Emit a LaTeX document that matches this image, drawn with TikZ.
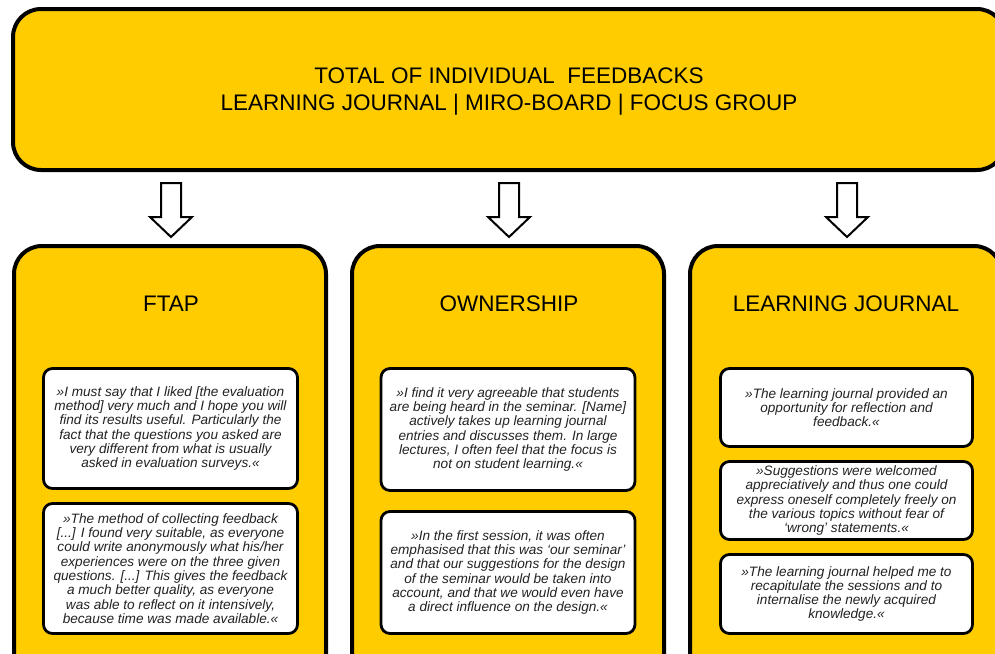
\documentclass[tikz,border=0pt]{standalone}
\usepackage{fontspec}
\setmainfont{Liberation Sans}
\definecolor{gold}{HTML}{FFCC00}
\definecolor{quoteink}{HTML}{222222}
\begin{document}
\begin{tikzpicture}[x=1pt,y=-1pt]
\tikzset{
  bigbox/.style={draw=black, line width=4pt, fill=gold, rounded corners=28pt, inner sep=0pt},
  quotebox/.style={draw=black, line width=2.8pt, fill=white, rounded corners=9pt, inner sep=0pt},
  quotetext/.style={align=center, text=quoteink, font=\fontsize{13.6}{14.3}\selectfont\itshape, inner sep=0pt},
  titletext/.style={align=center, font=\fontsize{22.5}{27}\selectfont},
  blockarrow/.style={draw=black, line width=2pt, fill=white, line join=miter}
}
\useasboundingbox (0,0) rectangle (995,653);
\clip (0,0) rectangle (995,653);

% top box
\node[bigbox, minimum width=992pt, minimum height=161pt] (top) at (509,89.5) {};
\node[titletext] (toptext) at (509,92) {TOTAL OF INDIVIDUAL \ FEEDBACKS\\LEARNING JOURNAL | MIRO-BOARD | FOCUS GROUP};

% panels
\node[bigbox, minimum width=312pt, minimum height=474pt] (p1) at (170,483) {};
\node[bigbox, minimum width=312pt, minimum height=474pt] (p2) at (508,483) {};
\node[bigbox, minimum width=312pt, minimum height=474pt] (p3) at (846,483) {};

\node[titletext] (t1) at (171,304) {FTAP};
\node[titletext] (t2) at (509,304) {OWNERSHIP};
\node[titletext] (t3) at (846,304) {LEARNING JOURNAL};

% arrows
\foreach \p in {p1,p2,p3}
  \draw[blockarrow] (\p.north |- top.south) ++(-9,11) -- ++(20,0) -- ++(0,34) -- ++(11,0)
     -- ++(-21,20) -- ++(-21,-20) -- ++(11,0) -- cycle;

% quote boxes panel 1
\node[quotebox, minimum width=254pt, minimum height=120pt] (q11) at (170.5,428.5) {};
\node[quotetext] (q11t) at (q11) {»I must say that I liked [the evaluation\\method] very much and I hope you will\\find its results useful. Particularly the\\fact that the questions you asked are\\very different from what is usually\\asked in evaluation surveys.«};
\node[quotebox, minimum width=254pt, minimum height=130pt] (q12) at (170.5,568.5) {};
\node[quotetext] (q12t) at (q12) {»The method of collecting feedback\\{[...]} I found very suitable, as everyone\\could write anonymously what his/her\\experiences were on the three given\\questions. [...] This gives the feedback\\a much better quality, as everyone\\was able to reflect on it intensively,\\because time was made available.«};

% quote boxes panel 2
\node[quotebox, minimum width=254pt, minimum height=122pt] (q21) at (508,429.5) {};
\node[quotetext] (q21t) at (q21) {»I find it very agreeable that students\\are being heard in the seminar. [Name]\\actively takes up learning journal\\entries and discusses them. In large\\lectures, I often feel that the focus is\\not on student learning.«};
\node[quotebox, minimum width=254pt, minimum height=122pt] (q22) at (508,572.5) {};
\node[quotetext] (q22t) at (q22) {»In the first session, it was often\\emphasised that this was ‘our seminar’\\and that our suggestions for the design\\of the seminar would be taken into\\account, and that we would even have\\a direct influence on the design.«};

% quote boxes panel 3
\node[quotebox, minimum width=252pt, minimum height=78pt] (q31) at (846.5,407.5) {};
\node[quotetext] (q31t) at (q31) {»The learning journal provided an\\opportunity for reflection and\\feedback.«};
\node[quotebox, minimum width=252pt, minimum height=78pt] (q32) at (846.5,500.5) {};
\node[quotetext] (q32t) at (q32) {»Suggestions were welcomed\\appreciatively and thus one could\\express oneself completely freely on\\the various topics without fear of\\‘wrong’ statements.«};
\node[quotebox, minimum width=252pt, minimum height=79pt] (q33) at (846.5,594) {};
\node[quotetext] (q33t) at (q33) {»The learning journal helped me to\\recapitulate the sessions and to\\internalise the newly acquired\\knowledge.«};
\end{tikzpicture}
\end{document}
